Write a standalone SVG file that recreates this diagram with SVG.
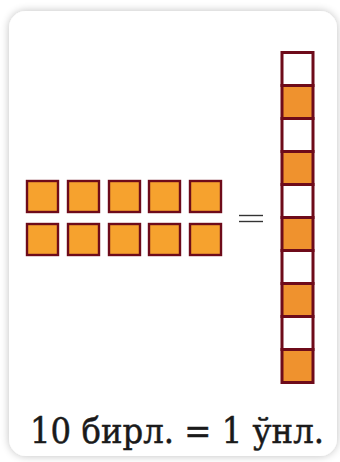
<svg xmlns="http://www.w3.org/2000/svg" width="340" height="462" viewBox="0 0 340 462">
<defs>
<filter id="sh" x="-10%" y="-10%" width="120%" height="120%">
<feGaussianBlur in="SourceAlpha" stdDeviation="4"/>
<feOffset dx="0" dy="0"/>
<feComponentTransfer><feFuncA type="linear" slope="0.25"/></feComponentTransfer>
<feMerge><feMergeNode/><feMergeNode in="SourceGraphic"/></feMerge>
</filter>
</defs>
<style>
.u{fill:#F6A22E;stroke:#6E0B1A;stroke-width:2.4}
.w{fill:#FFFFFF;stroke:#6E0B1A;stroke-width:3}
.o{fill:#EF922E;stroke:#6E0B1A;stroke-width:3}
.eq{stroke:#333333;stroke-width:1.4}
.t{font-family:"DejaVu Serif","Liberation Serif",serif;font-size:36px;fill:#1a1a1a;stroke:#1a1a1a;stroke-width:0.5}
</style>
<rect width="340" height="462" fill="#ffffff"/>
<rect id="card" x="9" y="11" width="328" height="445" rx="17" fill="#ffffff" filter="url(#sh)"/>
<g id="units">
<rect class="u" x="27" y="181" width="31" height="31"/>
<rect class="u" x="68" y="181" width="31" height="31"/>
<rect class="u" x="109" y="181" width="31" height="31"/>
<rect class="u" x="149" y="181" width="31" height="31"/>
<rect class="u" x="190" y="181" width="31" height="31"/>
<rect class="u" x="27" y="224" width="31" height="31"/>
<rect class="u" x="68" y="224" width="31" height="31"/>
<rect class="u" x="109" y="224" width="31" height="31"/>
<rect class="u" x="149" y="224" width="31" height="31"/>
<rect class="u" x="190" y="224" width="31" height="31"/>
</g>
<g id="equals">
<line class="eq" x1="239" y1="215.5" x2="263" y2="215.5"/>
<line class="eq" x1="239" y1="221.5" x2="263" y2="221.5"/>
</g>
<g id="ten">
<rect class="w" x="282" y="52.5" width="31" height="33"/>
<rect class="o" x="282" y="85.5" width="31" height="33"/>
<rect class="w" x="282" y="118.5" width="31" height="33"/>
<rect class="o" x="282" y="151.5" width="31" height="33"/>
<rect class="w" x="282" y="184.5" width="31" height="33"/>
<rect class="o" x="282" y="217.5" width="31" height="33"/>
<rect class="w" x="282" y="250.5" width="31" height="33"/>
<rect class="o" x="282" y="283.5" width="31" height="33"/>
<rect class="w" x="282" y="316.5" width="31" height="33"/>
<rect class="o" x="282" y="349.5" width="31" height="33"/>
</g>
<text class="t" x="30" y="443" textLength="294" lengthAdjust="spacingAndGlyphs">10 бирл. = 1 ўнл.</text>
</svg>
